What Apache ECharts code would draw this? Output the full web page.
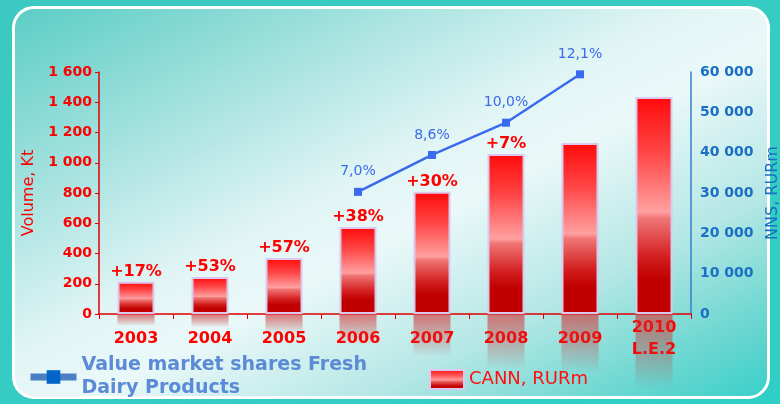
<!DOCTYPE html>
<html>
<head>
<meta charset="utf-8">
<style>
	html, body { margin: 0; padding: 0; width: 780px; height: 404px; overflow: hidden; background: linear-gradient(to bottom right, #3cc9c1, #2fcfc5); }
	#panel { position: absolute; left: 12px; top: 6px; width: 752px; height: 387px; border: 3px solid #fff; border-radius: 22px;
		background: linear-gradient(to bottom right, #5ccdc6 0%, #98deda 20%, #e2f5f5 45%, #eaf8f8 55%, #b4e7e5 74%, #72d8d2 88%, #3ad0c8 100%); }
	#chart { position: absolute; left: 0; top: 0; width: 780px; height: 404px; }
</style>
</head>
<body>
<div id="panel"></div>
<div id="chart"></div>
<script src="https://cdn.jsdelivr.net/npm/echarts@6/dist/echarts.min.js"></script>
<script>
	var years = ['2003', '2004', '2005', '2006', '2007', '2008', '2009', '2010\nL.E.2']
	var cann = [8000, 9200, 13900, 21600, 30300, 39700, 42400, 53800]	// RURm
	var growth = ['+17%', '+53%', '+57%', '+38%', '+30%', '+7%', '', '']
	var share = [null, null, null, 7.0, 8.6, 10.0, 12.1, null]	// %
	var shareName = 'Value market shares Fresh\nDairy Products'
	var cannName = 'CANN, RURm'

	var font = 'DejaVu Sans'
	function spaced(v){
		return String(v).replace(/\B(?=(\d{3})+(?!\d))/g, ' ')
	}

	var myChart = echarts.init(document.getElementById('chart'))

	var barColor = new echarts.graphic.LinearGradient(0, 0, 0, 1, [
		{ offset: 0, color: '#ff0a0a' },
		{ offset: 0.25, color: '#ff4444' },
		{ offset: 0.53, color: '#ffa0a0' },
		{ offset: 0.56, color: '#f07474' },
		{ offset: 0.74, color: '#d21e1e' },
		{ offset: 0.84, color: '#c00000' },
		{ offset: 1, color: '#c00000' }
	])

	option = {
		textStyle: { fontFamily: font },
		legend: [{
			left: 22,
			top: 349,
			itemWidth: 46,
			itemHeight: 17,
			itemGap: 4,
			data: [shareName],
			lineStyle: { width: 7, color: '#4a7fc4' },
			itemStyle: { color: '#0064c8' },
			textStyle: { color: '#5b8ad6', fontSize: 19, fontWeight: 'bold', lineHeight: 23, fontFamily: font }
		}, {
			left: 424,
			top: 364,
			itemWidth: 34,
			itemHeight: 19,
			icon: 'rect',
			data: [cannName],
			textStyle: { color: '#ff1010', fontSize: 18, fontFamily: font }
		}],
		grid: {
			left: 99,
			right: 89,
			top: 72,
			bottom: 90,
			outerBoundsMode: 'none'
		},
		xAxis: {
			type: 'category',
			data: years,
			axisLine: { lineStyle: { color: '#e00000', width: 1.5 } },
			axisTick: { show: true, length: 5, lineStyle: { color: '#e00000' } },
			axisLabel: {
				color: '#ff0000',
				fontSize: 16,
				fontWeight: 'bold',
				lineHeight: 22,
				verticalAlign: 'middle',
				margin: 25,
				fontFamily: font
			}
		},
		yAxis: [{
			type: 'value',
			min: 0,
			max: 1600,
			interval: 200,
			name: 'Volume, Kt',
			nameLocation: 'middle',
			nameGap: 62,
			nameTextStyle: { color: '#ff0000', fontSize: 16, fontFamily: font },
			axisLine: { show: true, lineStyle: { color: '#e00000', width: 1.5 } },
			axisTick: { show: true, length: 4, lineStyle: { color: '#e00000' } },
			axisLabel: {
				color: '#ff0000',
				fontSize: 14,
				fontWeight: 'bold',
				margin: 7,
				fontFamily: font,
				formatter: spaced
			},
			splitLine: { show: false }
		}, {
			type: 'value',
			min: 0,
			max: 60000,
			interval: 10000,
			position: 'right',
			name: 'NNS, RURm',
			nameLocation: 'middle',
			nameGap: 66,
			nameTextStyle: { color: '#1a6fc4', fontSize: 16, fontFamily: font },
			axisLine: { show: true, lineStyle: { color: '#3080d0', width: 1.5 } },
			axisTick: { show: false },
			axisLabel: {
				color: '#1a6fc4',
				fontSize: 14,
				fontWeight: 'bold',
				margin: 9,
				fontFamily: font,
				formatter: spaced
			},
			splitLine: { show: false }
		}, {
			type: 'value',
			min: 1.7,
			max: 12.2,
			show: false
		}],
		series: [{
			name: 'reflection',
			type: 'custom',
			xAxisIndex: 0,
			yAxisIndex: 1,
			silent: true,
			z: 1,
			renderItem: function(params, api){
				var base = api.coord([api.value(0), 0])
				var top = api.coord([api.value(0), api.value(1)])
				var w = 37
				var h = (base[1] - top[1]) * 0.34
				return {
					type: 'rect',
					shape: { x: base[0] - w / 2, y: base[1] + 1, width: w, height: h },
					style: {
						fill: new echarts.graphic.LinearGradient(0, 0, 0, 1, [
							{ offset: 0, color: 'rgba(215, 40, 40, 0.6)' },
							{ offset: 0.5, color: 'rgba(200, 50, 50, 0.32)' },
							{ offset: 1, color: 'rgba(190, 60, 60, 0)' }
						])
					}
				}
			},
			data: cann.map(function(v, i){ return [i, v] })
		}, {
			name: cannName,
			type: 'bar',
			yAxisIndex: 1,
			barWidth: 37,
			z: 2,
			itemStyle: {
				color: barColor,
				borderColor: '#dcc8ee',
				borderWidth: 2
			},
			label: {
				show: true,
				position: 'top',
				distance: 2,
				color: '#ff0000',
				fontSize: 16,
				fontWeight: 'bold',
				fontFamily: font,
				formatter: function(p){ return growth[p.dataIndex] }
			},
			data: cann
		}, {
			name: shareName,
			type: 'line',
			yAxisIndex: 2,
			z: 3,
			symbol: 'rect',
			symbolSize: 8,
			lineStyle: { color: '#3a6af0', width: 2.5 },
			itemStyle: { color: '#3a6af0' },
			label: {
				show: true,
				position: 'top',
				distance: 9,
				color: '#3a6ae8',
				fontSize: 14,
				fontFamily: font,
				formatter: function(p){ return p.value.toFixed(1).replace('.', ',') + '%' }
			},
			data: share
		}]
	}
	myChart.setOption(option)
</script>
</body>
</html>
